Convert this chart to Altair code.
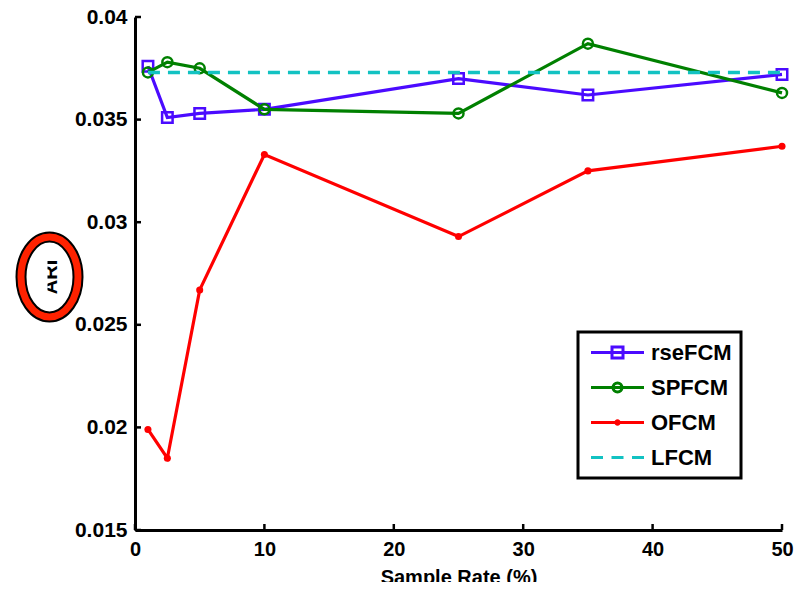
import altair as alt
import pandas as pd

# ---- data ----
sample_rate = [1, 2.5, 5, 10, 25, 35, 50]
rsefcm = [0.0376, 0.0351, 0.0353, 0.0355, 0.0370, 0.0362, 0.0372]
spfcm = [0.0373, 0.0378, 0.0375, 0.0355, 0.0353, 0.0387, 0.0363]
ofcm = [0.0199, 0.0185, 0.0267, 0.0333, 0.0293, 0.0325, 0.0337]
lfcm = [0.0373, 0.0373, 0.0373, 0.0373, 0.0373, 0.0373, 0.0373]
series_names = ["rseFCM", "SPFCM", "OFCM", "LFCM"]
series_colors = ["#4B0BFF", "#008000", "#FF0000", "#12C2C2"]
x_ticks = [0, 10, 20, 30, 40, 50]
y_ticks = [0.015, 0.02, 0.025, 0.03, 0.035, 0.04]
x_title = "Sample Rate (%)"
y_title = "ARI"

rows = []
for name, vals in zip(series_names, [rsefcm, spfcm, ofcm, lfcm]):
    for xv, yv in zip(sample_rate, vals):
        rows.append({"series": name, "x": xv, "y": yv})
df = pd.DataFrame(rows)

FONT = "Liberation Sans"
W, H = 647, 513

xscale = alt.Scale(domain=[0, 50], nice=False, zero=False)
yscale = alt.Scale(domain=[0.015, 0.04], nice=False, zero=False)
xaxis = alt.Axis(values=x_ticks, title=x_title, ticks=False, grid=False,
                 domainColor="black", domainWidth=3, labelFont=FONT, labelFontSize=20,
                 labelFontWeight="bold", labelColor="black", labelPadding=9, labelFlush=False,
                 titleFont=FONT, titleFontSize=20, titleFontWeight="bold", titleColor="black",
                 titlePadding=8)
yaxis = alt.Axis(values=y_ticks, title=None, format=".3~f", ticks=False, grid=False,
                 domainColor="black", domainWidth=3, labelFont=FONT, labelFontSize=21,
                 labelFontWeight="bold", labelColor="black", labelPadding=8, labelFlush=False)

color_scale = alt.Scale(domain=series_names, range=series_colors)
# legend glyphs: line + marker; hollow markers drawn twice in opposite directions (no fill)
legend_paths = [
    "M-2.65,0H2.65M-0.55,-0.55H0.55V0.55H-0.55ZM-0.55,-0.55V0.55H0.55V-0.55Z",
    "M-2.65,0H2.65M0.45,0A0.45,0.45 0 1,1 -0.45,0A0.45,0.45 0 1,1 0.45,0Z"
    "M0.45,0A0.45,0.45 0 1,0 -0.45,0A0.45,0.45 0 1,0 0.45,0Z",
    "M-2.65,0H2.65M0.17,0A0.17,0.17 0 1,1 -0.17,0A0.17,0.17 0 1,1 0.17,0Z",
    "M-2.65,0H-1.45M-0.6,0H0.6M1.45,0H2.65",
]
shape_scale = alt.Scale(domain=series_names, range=legend_paths)
legend = alt.Legend(title=None, orient="none", legendX=443, legendY=315,
                    fillColor="white", strokeColor="black", padding=9, cornerRadius=0,
                    symbolSize=400, symbolStrokeWidth=3, symbolOpacity=1,
                    symbolOffset=19, labelOffset=22, rowPadding=12,
                    labelFont=FONT, labelFontSize=22, labelFontWeight="bold",
                    labelColor="black")

X = alt.X("x:Q", scale=xscale, axis=xaxis)
Y = alt.Y("y:Q", scale=yscale, axis=yaxis)
C = alt.Color("series:N", scale=color_scale, legend=legend)
S = alt.Shape("series:N", scale=shape_scale, legend=legend)

base = alt.Chart(df)

layers = []
# legend provider (invisible points) first
layers.append(base.mark_point(filled=False, opacity=0, strokeWidth=3).encode(
    x=X, y=Y, color=C, shape=S))

# inward tick marks
layers.append(alt.Chart(pd.DataFrame({"x": x_ticks})).mark_rule(color="black", strokeWidth=2.5)
              .encode(x=X, y=alt.value(H), y2=alt.value(H - 6)))
layers.append(alt.Chart(pd.DataFrame({"y": y_ticks})).mark_rule(color="black", strokeWidth=2.5)
              .encode(y=Y, x=alt.value(0), x2=alt.value(6)))

point_marks = {
    "rseFCM": dict(shape="square", filled=False, size=110, strokeWidth=2.5, opacity=1),
    "SPFCM": dict(shape="circle", filled=False, size=100, strokeWidth=2.5, opacity=1),
    "OFCM": dict(shape="circle", filled=True, size=50, opacity=1),
}
for name in series_names:
    sub = base.transform_filter(alt.datum.series == name)
    if name == "LFCM":
        layers.append(sub.mark_line(strokeWidth=3.5, strokeDash=[12, 8]).encode(x=X, y=Y, color=C))
    else:
        layers.append(sub.mark_line(strokeWidth=3.2).encode(x=X, y=Y, color=C))
        layers.append(sub.mark_point(**point_marks[name]).encode(x=X, y=Y, color=C))

# y-axis title annotation with ellipse
one = alt.Chart(pd.DataFrame({"t": [y_title]}))
layers.append(one.mark_text(angle=270, font=FONT, fontSize=20, fontWeight="bold", color="black",
                            align="center", baseline="middle")
              .encode(text="t:N", x=alt.value(-84), y=alt.value(260)))
layers.append(one.mark_rect(color="white").encode(x=alt.value(-97), x2=alt.value(-87.5),
                                                    y=alt.value(236), y2=alt.value(284)))
ellipse = "M-0.7125,0A0.7125,1 0 1,0 0.7125,0A0.7125,1 0 1,0 -0.7125,0"
layers.append(one.mark_point(shape=ellipse, size=6400, filled=False, stroke="black",
                             strokeWidth=11, opacity=1)
              .encode(x=alt.value(-85.5), y=alt.value(260)))
layers.append(one.mark_point(shape=ellipse, size=6400, filled=False, stroke="#FF2200",
                             strokeWidth=7, opacity=1)
              .encode(x=alt.value(-85.5), y=alt.value(260)))

chart = alt.layer(*layers).properties(
    width=W, height=H,
    autosize=alt.AutoSizeParams(type="none"),
    padding={"left": 127, "top": 9, "right": 12, "bottom": 52},
).configure_view(stroke=None).configure_legend(strokeWidth=3)

chart.save("out.html", embed_options={"renderer": "svg", "actions": False})
